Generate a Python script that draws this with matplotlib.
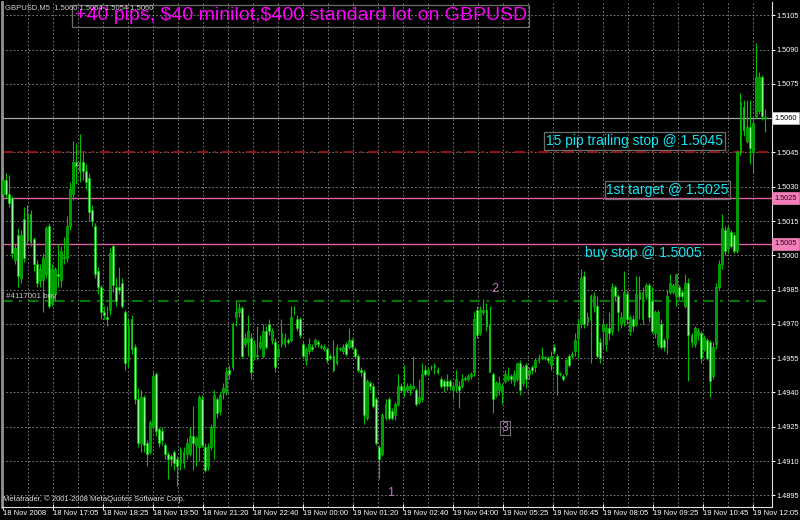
import numpy as np
import matplotlib
matplotlib.use("Agg")
import matplotlib.pyplot as plt
import matplotlib.transforms as mtransforms

plt.rcParams["font.family"] = ["Liberation Sans", "DejaVu Sans"]

# GBPUSD M5 candles, prices in pips above 1.4800
open_pips = [227, 233, 227, 225, 198, 209, 190, 216, 207, 218, 207, 196, 189, 189, 192, 213, 179, 183, 192, 189,
             199, 199, 213, 227, 241, 241, 241, 237, 234, 220, 213, 193, 186, 175, 173, 176, 204, 186, 186, 188,
             175, 154, 172, 160, 137, 118, 138, 118, 114, 125, 148, 124, 123, 117, 113, 112, 114, 111, 109, 109,
             113, 113, 121, 117, 116, 137, 116, 108, 116, 125, 137, 132, 140, 140, 150, 151, 173, 175, 177, 161,
             162, 164, 156, 156, 160, 156, 167, 170, 163, 162, 156, 161, 161, 163, 163, 175, 172, 172, 161, 154,
             158, 160, 161, 162, 160, 159, 159, 156, 156, 153, 159, 158, 161, 160, 163, 159, 156, 150, 149, 129,
             144, 143, 137, 116, 113, 129, 137, 132, 130, 135, 143, 140, 141, 141, 142, 141, 136, 137, 150, 148,
             151, 151, 150, 146, 145, 145, 145, 141, 143, 143, 143, 146, 146, 147, 149, 176, 166, 175, 176, 170,
             148, 139, 141, 140, 145, 146, 147, 145, 146, 153, 144, 152, 148, 151, 151, 154, 155, 155, 155, 152,
             160, 156, 148, 147, 148, 156, 156, 158, 164, 170, 191, 171, 172, 178, 178, 162, 167, 161, 168, 167,
             186, 182, 170, 171, 183, 167, 172, 170, 184, 172, 182, 187, 180, 166, 161, 170, 163, 164, 184, 184,
             182, 186, 184, 178, 188, 165, 161, 165, 166, 159, 163, 162, 147, 161, 186, 196, 211, 203, 210, 209,
             202, 245, 265, 250, 256, 245, 261, 263, 278, 260]
high_pips = [235, 236, 235, 226, 205, 212, 211, 221, 222, 220, 208, 198, 196, 201, 213, 214, 196, 195, 205, 204,
             208, 217, 232, 250, 249, 253, 245, 240, 236, 222, 214, 195, 187, 178, 178, 203, 205, 190, 195, 190,
             176, 172, 174, 161, 142, 141, 139, 119, 128, 149, 149, 125, 125, 118, 114, 113, 115, 112, 116, 116,
             120, 125, 134, 121, 139, 139, 118, 118, 126, 141, 138, 140, 144, 151, 152, 171, 180, 179, 178, 166,
             174, 166, 163, 169, 165, 170, 169, 172, 168, 164, 161, 172, 166, 164, 178, 178, 174, 173, 163, 160,
             164, 161, 164, 163, 161, 161, 160, 157, 163, 161, 160, 161, 162, 168, 164, 160, 157, 151, 150, 146,
             145, 144, 138, 117, 131, 137, 138, 133, 136, 148, 144, 152, 144, 144, 156, 142, 146, 153, 152, 151,
             152, 153, 151, 147, 146, 148, 146, 144, 150, 145, 148, 147, 148, 149, 175, 178, 178, 181, 179, 178,
             149, 145, 147, 144, 150, 151, 148, 150, 153, 154, 152, 153, 151, 152, 155, 157, 160, 156, 156, 158,
             161, 157, 149, 148, 155, 157, 158, 166, 172, 194, 193, 175, 183, 184, 182, 164, 172, 170, 175, 188,
             187, 183, 175, 193, 185, 174, 174, 191, 191, 186, 188, 188, 186, 176, 176, 172, 164, 185, 192, 188,
             192, 187, 185, 192, 190, 166, 169, 168, 167, 165, 164, 163, 162, 188, 198, 218, 213, 213, 211, 210,
             246, 271, 268, 268, 268, 260, 293, 280, 279, 264]
low_pips = [219, 225, 221, 199, 196, 186, 188, 197, 205, 204, 193, 186, 186, 175, 190, 177, 178, 180, 186, 186,
            196, 197, 211, 224, 231, 232, 233, 229, 215, 213, 190, 183, 172, 172, 169, 174, 184, 178, 183, 177,
            150, 151, 157, 135, 116, 114, 114, 108, 113, 124, 121, 116, 117, 111, 102, 108, 106, 99, 106, 107,
            111, 112, 106, 108, 110, 116, 105, 106, 115, 111, 129, 130, 137, 139, 146, 150, 169, 173, 155, 160,
            156, 146, 154, 154, 159, 155, 159, 165, 161, 149, 155, 160, 160, 161, 162, 174, 167, 164, 155, 152,
            157, 158, 160, 160, 159, 158, 153, 154, 149, 152, 158, 157, 156, 159, 159, 155, 149, 147, 126, 128,
            141, 133, 117, 102, 112, 128, 128, 128, 128, 134, 140, 138, 140, 139, 141, 134, 135, 136, 147, 147,
            150, 148, 148, 142, 140, 141, 141, 137, 140, 133, 142, 145, 145, 146, 147, 164, 165, 174, 167, 149,
            131, 138, 139, 135, 144, 145, 144, 143, 145, 139, 143, 142, 146, 148, 149, 153, 154, 154, 153, 150,
            157, 139, 147, 145, 147, 151, 155, 156, 155, 168, 168, 169, 153, 175, 155, 153, 160, 158, 163, 165,
            180, 167, 168, 169, 170, 165, 167, 169, 172, 170, 181, 171, 166, 164, 160, 159, 158, 157, 183, 183,
            178, 181, 181, 177, 145, 160, 160, 163, 153, 158, 154, 138, 146, 159, 185, 194, 200, 201, 203, 201,
            201, 244, 252, 249, 240, 236, 260, 262, 259, 254]
close_pips = [233, 227, 223, 201, 203, 191, 209, 199, 218, 206, 196, 188, 194, 199, 212, 178, 194, 194, 191, 202,
              199, 213, 229, 241, 239, 237, 237, 232, 219, 215, 192, 186, 175, 174, 172, 201, 187, 180, 185, 178,
              153, 169, 159, 137, 118, 138, 117, 113, 127, 147, 123, 118, 119, 113, 111, 111, 109, 108, 115, 114,
              118, 121, 118, 120, 138, 117, 106, 116, 125, 139, 131, 139, 142, 149, 148, 170, 175, 177, 156, 164,
              167, 149, 161, 156, 162, 167, 160, 167, 167, 151, 159, 166, 164, 162, 173, 175, 168, 165, 156, 159,
              161, 159, 163, 161, 160, 160, 154, 155, 150, 160, 159, 160, 157, 163, 160, 156, 150, 149, 130, 145,
              143, 134, 118, 111, 130, 135, 129, 129, 135, 143, 141, 142, 143, 143, 143, 135, 138, 148, 148, 150,
              151, 152, 149, 143, 143, 143, 143, 143, 146, 141, 146, 146, 147, 148, 172, 165, 176, 176, 169, 149,
              137, 144, 144, 143, 148, 147, 146, 148, 153, 141, 151, 146, 150, 150, 154, 155, 156, 155, 154, 156,
              158, 148, 148, 146, 154, 152, 157, 163, 170, 190, 170, 173, 182, 182, 156, 155, 170, 168, 166, 186,
              182, 175, 173, 184, 172, 173, 169, 183, 181, 184, 187, 173, 167, 175, 175, 160, 160, 182, 188, 187,
              192, 182, 182, 188, 165, 162, 168, 167, 155, 164, 155, 145, 160, 186, 196, 212, 202, 212, 204, 202,
              245, 267, 255, 256, 247, 258, 278, 278, 261, 260]

time_labels = ["18 Nov 2008", "18 Nov 17:05", "18 Nov 18:25", "18 Nov 19:50", "18 Nov 21:20", "18 Nov 22:40",
               "19 Nov 00:00", "19 Nov 01:20", "19 Nov 02:40", "19 Nov 04:00", "19 Nov 05:25", "19 Nov 06:45",
               "19 Nov 08:05", "19 Nov 09:25", "19 Nov 10:45", "19 Nov 12:05"]
price_ticks = [1.4895, 1.4910, 1.4925, 1.4940, 1.4955, 1.4970, 1.4985, 1.5000,
               1.5015, 1.5030, 1.5045, 1.5060, 1.5075, 1.5090, 1.5105]

last_price = 1.5060
trailing_stop = 1.5045
first_target = 1.5025
buy_stop = 1.5005
order_price = 1.4980

base = 1.48
o = base + np.array(open_pips) / 10000
h = base + np.array(high_pips) / 10000
l = base + np.array(low_pips) / 10000
c = base + np.array(close_pips) / 10000
x = np.arange(len(c))

fig = plt.figure(figsize=(8, 5.2), dpi=100, facecolor="black")
ax = fig.add_axes([2 / 800, 13 / 520, 770 / 800, 505 / 520])
ax.set_facecolor("black")

bar_px = 3.06  # screen pixels per bar
ax.set_xlim(-1 / bar_px, 769 / bar_px)
ax.set_ylim(1.48899, 1.51108)

grid_col = "#8c8c8c"
dots = (0, (2, 2.5))
for p in price_ticks:
    ax.axhline(p, color=grid_col, lw=0.6, ls=dots, zorder=0)
for k in range(31):
    ax.axvline((25 * k) / bar_px, color=grid_col, lw=0.6, ls=dots, zorder=0)

# horizontal levels
ax.axhline(last_price, color="#a8a8b0", lw=0.9, zorder=1)
ax.axhline(trailing_stop, color="#a01010", lw=1.3, ls=(0, (6, 3, 1.5, 3)), zorder=1)
ax.axhline(first_target, color="#d8609e", lw=1.0, zorder=1)
ax.axhline(buy_stop, color="#d8609e", lw=1.0, zorder=1)
ax.axhline(order_price, color="#00a000", lw=1.1, ls=(0, (7, 4, 2, 4)), zorder=1)

# candles
ax.vlines(x, l, h, color="#00c000", lw=0.8, zorder=2)
up = c >= o
dn = ~up
ht = np.maximum(np.abs(c - o), 0.00003)
ax.bar(x[up], ht[up], bottom=np.minimum(o, c)[up], width=0.62, color="#009800",
       edgecolor="#00c000", lw=0.5, zorder=3)
ax.bar(x[dn], ht[dn], bottom=np.minimum(o, c)[dn], width=0.62, color="#8cff8c",
       edgecolor="#00c000", lw=0.5, zorder=3)

# axes look
ax.spines["top"].set_visible(False)
ax.spines["left"].set_color("#909090")
ax.spines["left"].set_linewidth(2)
ax.spines["right"].set_color("#e0e0e0")
ax.spines["bottom"].set_color("#e0e0e0")
ax.spines["right"].set_linewidth(0.8)
ax.spines["bottom"].set_linewidth(0.8)

ax.yaxis.tick_right()
ax.set_yticks(price_ticks)
ax.set_yticklabels(["" if p == last_price else "%.4f" % p for p in price_ticks])
ax.tick_params(axis="y", colors="white", labelsize=5.3, length=2.5, width=0.7, pad=1)
ax.set_xticks(np.arange(len(time_labels)) * 50 / bar_px)
ax.set_xticklabels(time_labels, ha="left")
ax.tick_params(axis="x", colors="white", labelsize=5.5, length=4, width=0.7, pad=0.5, direction="inout")

# boxed prices on the price scale
tr = mtransforms.blended_transform_factory(ax.transAxes, ax.transData)
ax.text(1.003, last_price, "1.5060", transform=tr, fontsize=5.3, color="black", va="center", ha="left",
        bbox=dict(boxstyle="square,pad=0.3", fc="white", ec="#c0c0c0", lw=0.5))
for lv, txt in [(first_target, "1.5025"), (buy_stop, "1.5005")]:
    ax.text(1.003, lv, txt, transform=tr, fontsize=5.3, color="#300018", va="center", ha="left",
            bbox=dict(boxstyle="square,pad=0.3", fc="#f27fb8", ec="#f27fb8", lw=0.5))

# chart objects
ax.text(23.4, 1.51048, "+40 pips, \\$40 minilot,\\$400 standard lot on GBPUSD", color="#ff00ff",
        fontsize=14, va="center", ha="left",
        bbox=dict(boxstyle="square,pad=0.12", fc="none", ec="#6c6c6c", lw=0.9), zorder=5)
cyan = "#14e6f4"
ax.text(177.5, 1.50500, "15 pip trailing stop @ 1.5045", color=cyan, fontsize=10, va="center", ha="left",
        bbox=dict(boxstyle="square,pad=0.12", fc="none", ec="#6c6c6c", lw=0.9), zorder=5)
ax.text(197.2, 1.50286, "1st target @ 1.5025", color=cyan, fontsize=10, va="center", ha="left",
        bbox=dict(boxstyle="square,pad=0.12", fc="none", ec="#6c6c6c", lw=0.9), zorder=5)
ax.text(190.2, 1.50010, "buy stop @ 1.5005", color=cyan, fontsize=10, va="center", ha="left", zorder=5)

num_col = "#c86ec8"
ax.text(126.5, 1.48962, "1", color=num_col, fontsize=9, ha="center", va="center", zorder=5)
ax.text(160.8, 1.49853, "2", color=num_col, fontsize=9, ha="center", va="center", zorder=5)
ax.text(164.1, 1.49245, "3", color=num_col, fontsize=9, ha="center", va="center", zorder=5,
        bbox=dict(boxstyle="square,pad=0.1", fc="none", ec="#707070", lw=0.8))
ax.text(1.0, 1.49818, "#4117001 buy", color="#c8c8c8", fontsize=5.8, ha="left", va="center", zorder=5)

fig.text(5 / 800, 1 - 8 / 520, "GBPUSD,M5  1.5060 1.5064 1.5054 1.5060", color="#d0d0d0",
         fontsize=5.5, ha="left", va="center")
fig.text(3 / 800, 1 - 499 / 520, "Metatrader, \u00a9 2001-2008 MetaQuotes Software Corp.", color="#e0e0e0",
         fontsize=5.5, ha="left", va="center")

fig.savefig("out.png", dpi=100, facecolor="black")
